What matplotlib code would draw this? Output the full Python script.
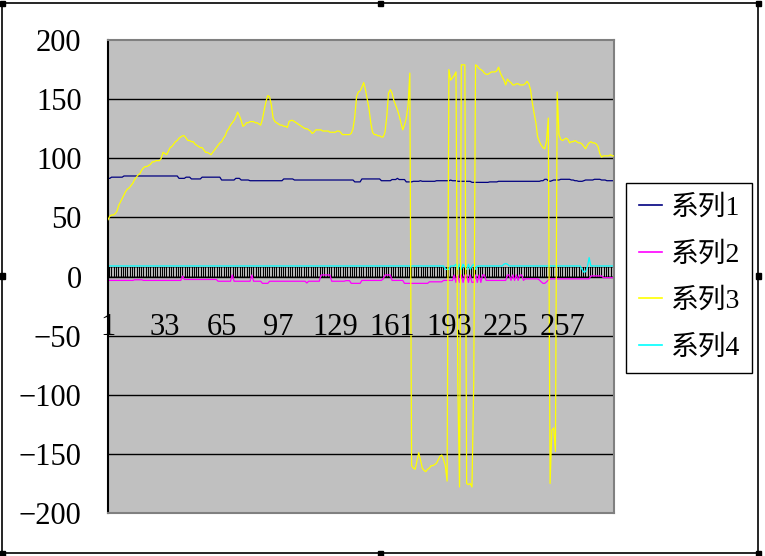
import matplotlib
matplotlib.use('Agg')
import matplotlib.pyplot as plt
from matplotlib.patches import Rectangle

plt.rcParams['font.family'] = ['Liberation Serif', 'Noto Sans CJK SC']

# category axis: 286 points, labelled every 32
categories = list(range(1, 287))
x_labels = [1, 33, 65, 97, 129, 161, 193, 225, 257]
y_ticks = [-200, -150, -100, -50, 0, 50, 100, 150, 200]
series_names = ['系列1', '系列2', '系列3', '系列4']
series_colors = ['#000080', '#FF00FF', '#FFFF00', '#00FFFF']

s1 = [83, 83, 84, 84, 84, 84, 84, 84, 84, 85,
      85, 85, 85, 85, 85, 85, 85, 85, 85, 85,
      85, 85, 85, 85, 85, 85, 85, 85, 85, 85,
      85, 85, 85, 85, 85, 85, 85, 85, 85, 85,
      83, 83, 83, 83, 84, 84, 84, 82.5, 82.5, 82.5,
      82.5, 82.5, 82.5, 84, 84, 84, 84, 84, 84, 84,
      84, 84, 84, 84, 81.6, 81.6, 81.6, 81.6, 81.6, 81.6,
      81.6, 81.6, 83, 83, 83, 81.6, 81.6, 81.6, 81.6, 81.6,
      81, 81, 81, 81, 81, 81, 81, 81, 81, 81,
      81, 81, 81, 81, 81, 81, 81, 81, 81, 82.5,
      82.5, 82.5, 82.5, 82.5, 82.5, 81.6, 81.6, 81.6, 81.6, 81.6,
      81.6, 81.6, 81.6, 81.6, 81.6, 81.6, 81.6, 81.6, 81.6, 81.6,
      81.6, 81.6, 81.6, 81.6, 81.6, 81.6, 81.6, 81.6, 81.6, 81.6,
      81.6, 81.6, 81.6, 81.6, 81.6, 81.6, 81.6, 81.6, 81.6, 80,
      80, 80, 80, 82.5, 82.5, 82.5, 82.5, 82.5, 82.5, 82.5,
      82.5, 82.5, 82.5, 82.5, 81, 81, 81, 81, 81, 81,
      82, 82, 82, 83, 82, 82, 82, 82, 80, 80,
      80, 80, 80.5, 80.5, 80.5, 80.5, 81, 80.5, 80.5, 80.5,
      80.5, 80.5, 80.5, 80.5, 80.5, 81, 81, 81, 81, 81,
      81, 81, 81, 81.5, 81, 81, 81, 80.5, 80.5, 80.5,
      80.5, 80.5, 80.5, 80.5, 80.5, 79.6, 79.6, 79.6, 79.6, 79.6,
      79.6, 79.6, 79.6, 79.6, 79.6, 80, 80, 80, 80, 80,
      80.5, 80.5, 80.5, 80.5, 80.5, 80.5, 80.5, 80.5, 80.5, 80.5,
      80.5, 80.5, 80.5, 80.5, 80.5, 80.5, 80.5, 80.5, 80.5, 80.5,
      80.5, 80.5, 80.5, 80.5, 81, 81, 82.2, 82.2, 81, 80.5,
      81, 81.6, 81.6, 81.6, 81.6, 82.2, 82.2, 82.2, 82.2, 82.2,
      82.2, 81.6, 81.6, 81, 81, 80.5, 80.5, 80.5, 81, 81.6,
      81.6, 81.6, 81.6, 81.6, 82.2, 82.2, 82.2, 82.2, 81.6, 81.6,
      81.6, 81, 81, 81, 81, 81]

s2 = [-3.3, -3.3, -3.3, -3.3, -3.3, -3.3, -3.3, -3.3, -3.3, -3.3,
      -3.3, -3.3, -3.3, -3.3, -3.3, -2.8, -2.8, -2.8, -2.8, -2.8,
      -3.3, -3.3, -3.3, -3.3, -3.3, -3.3, -3.3, -3.3, -3.3, -3.3,
      -3.3, -3.3, -3.3, -3.3, -3.3, -3.3, -3.3, -3.3, -3.3, -3.3,
      -3.3, -3.3, 0.4, -2.5, -2.5, -2.5, -2.5, -2.5, -2.5, -2.5,
      -2.5, -2.5, -2.5, -2.5, -2.5, -2.5, -2.5, -2.5, -2.5, -2.5,
      -2.5, -2.5, -4, -4, -4, -4, -4, -4, -4, -4,
      1.3, -4, -4, -4, -4, -4, -4, -4, -4, -4,
      -4, 1.3, -4, -4, -4, -4, -4, -5.8, -5.8, -5.8,
      -5.8, -4, -4, -4, -4, -4, -4, -4, -4, -4,
      -4, -4, -4, -4, -4, -4, -4, -4, -4, -4,
      -4, -4, -5.5, -4, -4, -4, -4, -4, -4, -4,
      1.3, 1.3, 1.3, 1.3, 1.3, 1.3, -4, -4, -4, -4,
      -4, -4, -4, -4, -3.5, -3.5, -3.5, -5.8, -5.8, -5.8,
      -5.8, -5.8, -5.8, -3.3, -3.3, -3.3, -3.3, -3.3, -3.3, -3.3,
      -3.3, -3.3, -3.3, -3.3, -3.3, -2, 1.3, 1.3, 1.3, 1.3,
      -3.3, -3.3, -3.3, -3.3, -3.3, -3.3, -3.3, -5.8, -5.8, -5.8,
      -5.8, -5.8, -5.8, -5.8, -5.8, -5.8, -5.8, -5.8, -5.8, -5.8,
      -5.8, -4.5, -4.5, -4.5, -4.5, -4.5, -4.5, -4.5, -4.5, -3.3,
      -3.3, -3.3, -3.3, -3.3, -3.3, 1.3, -5, 1.3, -5, 1.3,
      -5, 1.3, 1.3, -5, 1.3, -5, -5, 1.3, -5, 1.3,
      -5, 1.3, 1.3, -3.3, -3.3, -3.3, -3.3, -3.3, -3.3, -3.3,
      -3.3, -3.3, -3.3, -3.3, -3.3, 1.3, 1.3, -3.3, 1.3, -3.3,
      1.3, -3.3, 1.3, 1.3, -3.3, -2, -2, -2, -2, -2,
      -2, -2, -2, -3, -4.5, -5.8, -5.8, -4.5, -3, -2,
      -2, -2, -2, -2, -2, -2, -2, -2, -2, -2,
      -2, -2, -2, -2, -2, -2, -2, -2, -2, -2,
      -2, -2, 0.5, 0.5, 0.5, 0.5, 0.5, 0.5, 0.5, -1,
      -1, -1, -1, -1, -1, -1]

s3 = [48, 51, 52, 52, 53, 55, 60, 63, 66, 69,
      72, 74, 75, 77, 79, 82, 84, 86, 87, 90,
      92, 93, 93, 94, 95, 97, 97, 98, 98, 98,
      100, 105, 104, 103, 106, 109, 110, 112, 114, 115,
      117, 118, 119, 119, 117, 115, 115, 114, 114, 112,
      111, 110, 109, 109, 107, 105, 105, 104, 103, 105,
      107, 109, 111, 113, 114, 117, 119, 123, 125, 128,
      130, 132, 135, 139, 136, 132, 127, 128, 130, 130,
      131, 131, 131, 130, 130, 129, 128, 133, 141, 148,
      153, 152, 145, 134, 131, 130, 129, 128, 128, 127,
      127, 126, 131, 132, 132, 131, 130, 129, 128, 127,
      126, 125, 125, 124, 123, 121, 122, 124, 124, 124,
      124, 123, 123, 123, 123, 122, 122, 122, 122, 123,
      123, 122, 120, 120, 120, 120, 120, 121, 125, 135,
      152, 156, 157, 160, 164, 158, 150, 142, 130, 122,
      120, 120, 119, 119, 118, 118, 122, 135, 155, 158,
      155, 149, 145, 141, 136, 130, 124, 128, 134, 145,
      172, -160, -162, -163, -156, -149, -155, -162, -164, -165,
      -163, -162, -160, -160, -159, -158, -155, -152, -151, -155,
      -160, -173, 175, 166, 168, 170, 173, -89, -178, 179,
      179, 179, -175, -176, -175, -178, -89, 179, 178, 176,
      175, 174, 172, 171, 171, 172, 173, 173, 173, 174,
      177, 172, 169, 166, 162, 167, 165, 164, 162, 162,
      163, 163, 162, 162, 162, 163, 165, 163, 158, 147,
      138, 130, 118, 114, 111, 109, 108, 115, 134, -175,
      -130, -128, -148, 156, 120, 116, 115, 116, 117, 116,
      113, 114, 114, 115, 114, 113, 113, 112, 110, 108,
      111, 113, 114, 113, 113, 112, 110, 104, 101, 102,
      102, 102, 102, 103, 102, 102]

s4 = [8.9, 8.9, 8.9, 8.9, 8.9, 8.9, 8.9, 8.9, 8.9, 8.9,
      8.9, 8.9, 8.9, 8.9, 8.9, 8.9, 8.9, 8.9, 8.9, 8.9,
      8.9, 8.9, 8.9, 8.9, 8.9, 8.9, 8.9, 8.9, 8.9, 8.9,
      8.9, 8.9, 8.9, 8.9, 8.9, 8.9, 8.9, 8.9, 8.9, 8.9,
      8.9, 8.9, 8.9, 8.9, 8.9, 8.9, 8.9, 8.9, 8.9, 8.9,
      8.9, 8.9, 8.9, 8.9, 8.9, 8.9, 8.9, 8.9, 8.9, 8.9,
      8.9, 8.9, 8.9, 8.9, 8.9, 8.9, 8.9, 8.9, 8.9, 8.9,
      8.9, 8.9, 8.9, 8.9, 8.9, 8.9, 8.9, 8.9, 8.9, 8.9,
      8.9, 8.9, 8.9, 8.9, 8.9, 8.9, 8.9, 8.9, 8.9, 8.9,
      8.9, 8.9, 8.9, 8.9, 8.9, 8.9, 8.9, 8.9, 8.9, 8.9,
      8.9, 8.9, 8.9, 8.9, 8.9, 8.9, 8.9, 8.9, 8.9, 8.9,
      8.9, 8.9, 8.9, 8.9, 8.9, 8.9, 8.9, 8.9, 8.9, 8.9,
      8.9, 8.9, 8.9, 8.9, 8.9, 8.9, 8.9, 8.9, 8.9, 8.9,
      8.9, 8.9, 8.9, 8.9, 8.9, 8.9, 8.9, 8.9, 8.9, 8.9,
      8.9, 8.9, 8.9, 8.9, 8.9, 8.9, 8.9, 8.9, 8.9, 8.9,
      8.9, 8.9, 8.9, 8.9, 8.9, 8.9, 8.9, 8.9, 8.9, 8.9,
      8.9, 8.9, 8.9, 8.9, 8.9, 8.9, 8.9, 8.9, 8.9, 8.9,
      8.9, 8.9, 8.9, 8.9, 8.9, 8.9, 8.9, 8.9, 8.9, 8.9,
      8.9, 8.9, 8.9, 8.9, 8.9, 8.9, 8.9, 8.9, 8.9, 8.9,
      6, 6, 6, 8.9, 8.9, 8.9, 10.4, 6, 10.4, 6,
      10.4, 8, 6, 10.4, 6, 8.9, 10.4, 6, 8.9, 8.9,
      8.9, 8.9, 8.9, 8.9, 8.9, 8.9, 8.9, 8.9, 8.9, 8.9,
      8.9, 8.9, 8.9, 10.4, 11, 10.4, 8.9, 8.9, 8.9, 8.9,
      8.9, 8.9, 8.9, 8.9, 8.9, 8.9, 8.9, 8.9, 8.9, 8.9,
      8.9, 8.9, 8.9, 8.9, 8.9, 8.9, 8.9, 8.9, 8.9, 8.9,
      8.9, 8.9, 8.9, 8.9, 8.9, 8.9, 8.9, 8.9, 8.9, 8.9,
      8.9, 8.9, 8.9, 8.9, 8.9, 8.9, 8.9, 6, 3.7, 4,
      8, 16, 8.9, 8.9, 8.9, 8.9, 8.9, 8.9, 8.9, 8.9,
      8.9, 8.9, 8.9, 8.9, 8.9, 8.9]

series = [s1, s2, s3, s4]

W, H = 765, 556
fig = plt.figure(figsize=(W / 100, H / 100), dpi=100)
fig.patch.set_facecolor('white')

# plot area in pixel terms: x 108..614, y 40..513
ax = fig.add_axes([108 / W, 1 - 513 / H, (614 - 108) / W, (513 - 40) / H])
ax.set_facecolor('#C0C0C0')
ax.set_xlim(categories[0], categories[-1])
ax.set_ylim(y_ticks[0], y_ticks[-1])

for yv in y_ticks[1:-1]:
    ax.axhline(yv, color='black', lw=1.0, zorder=1)

# dense category tick band just above the zero line
ax.fill_between(categories, 0, 8.4, color='black', lw=0, zorder=1.5)
ax.vlines(categories, 0.6, 8.2, color='#d8d8d8', lw=0.6, zorder=1.6)

zorders = [2, 2, 3, 2]
for vals, col, name, z in zip(series, series_colors, series_names, zorders):
    ax.plot(categories, vals, color=col, lw=0.9, label=name, zorder=z)

ax.set_xticks([])
ax.set_yticks(y_ticks)
ax.tick_params(axis='y', length=0, pad=19, labelsize=22)
for lbl in x_labels:
    ax.text(lbl, -43, str(lbl), ha='center', va='center', fontsize=22, zorder=4)

for side in ['top', 'right', 'bottom']:
    ax.spines[side].set_color('#808080')
    ax.spines[side].set_linewidth(1.5)
ax.spines['left'].set_color('black')
ax.spines['left'].set_linewidth(1.5)

leg = fig.legend(loc='upper left', bbox_to_anchor=(626 / W, 1 - 183 / H),
                 fontsize=20, frameon=True, fancybox=False, framealpha=1,
                 edgecolor='black', borderaxespad=0, handlelength=0.85,
                 handletextpad=0.3, labelspacing=0.75, borderpad=0.45)
leg.get_frame().set_linewidth(1.0)
for line in leg.get_lines():
    line.set_linewidth(1.2)

# chart area border with selection handles
fig.add_artist(Rectangle((2 / W, 3 / H), (758 - 2) / W, (553 - 3) / H,
                         transform=fig.transFigure, fill=False,
                         ec='black', lw=1.2))
hs = 5
for hx in [2, 380, 758]:
    for hy in [3, 276, 553]:
        if hx == 380 and hy == 276:
            continue
        fig.add_artist(Rectangle(((hx - hs / 2) / W, 1 - (hy + hs / 2) / H),
                                 hs / W, hs / H, transform=fig.transFigure,
                                 color='black'))

fig.savefig('out.png', dpi=100)
